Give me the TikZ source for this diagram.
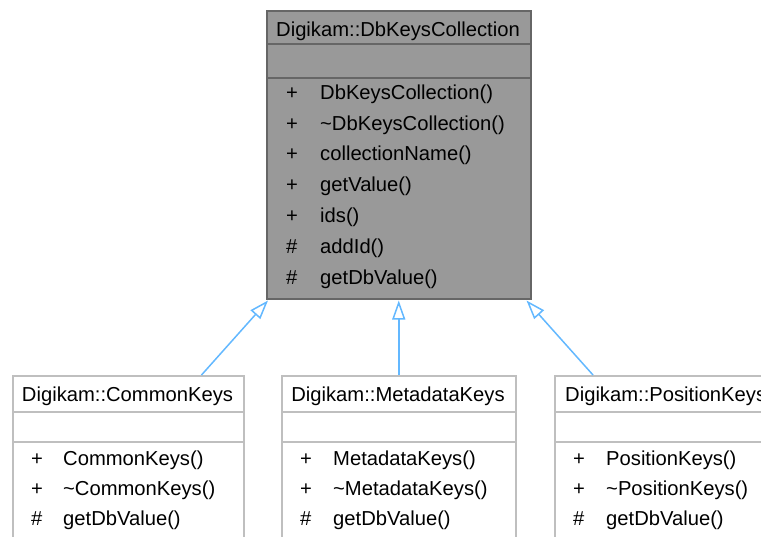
\documentclass[tikz,border=0pt]{standalone}
\usepackage{fontspec}
\setmainfont{Liberation Sans}
\usetikzlibrary{arrows.meta,calc}
\tikzset{
  parentbox/.style={draw=black!60, fill=black!40, line width=1.5pt, rectangle, inner sep=0pt, anchor=north west},
  childbox/.style={draw=black!25, fill=white, line width=1.5pt, rectangle, inner sep=0pt, anchor=north west},
  sep/.style={line width=1.5pt},
  txt/.style={anchor=base west, inner sep=0pt, font=\fontsize{20.2}{23}\selectfont, text=black},
  ttl/.style={anchor=base, inner sep=0pt, font=\fontsize{20.2}{23}\selectfont, text=black},
  inh/.style={draw={rgb,255:red,99;green,184;blue,255}, line width=1.5pt,
    {Triangle[length=19pt,width=13pt,fill=white]}-},
}
\begin{document}
\begin{tikzpicture}[x=1pt,y=-1pt]
\useasboundingbox (0,0) rectangle (761,536);
\clip (0,0) rectangle (761,536);
% parent
\node[parentbox, minimum width=264pt, minimum height=288pt] (parent) at (266,10) {};
\draw[sep, draw=black!60] (266,44) -- (530,44);
\draw[sep, draw=black!60] (266,78) -- (530,78);
\node[ttl] (pt) at (398,36) {Digikam::DbKeysCollection};
\node[txt] (p1a) at (286,99) {+}; \node[txt] (p1b) at (320,99) {DbKeysCollection()};
\node[txt] (p2a) at (286,130) {+}; \node[txt] (p2b) at (320,130) {\textasciitilde DbKeysCollection()};
\node[txt] (p3a) at (286,160) {+}; \node[txt] (p3b) at (320,160) {collectionName()};
\node[txt] (p4a) at (286,191) {+}; \node[txt] (p4b) at (320,191) {getValue()};
\node[txt] (p5a) at (286,222) {+}; \node[txt] (p5b) at (320,222) {ids()};
\node[txt] (p6a) at (286,253) {\#}; \node[txt] (p6b) at (320,253) {addId()};
\node[txt] (p7a) at (286,284) {\#}; \node[txt] (p7b) at (320,284) {getDbValue()};
% children
\node[childbox, minimum width=231pt, minimum height=180pt] (common) at (12,375) {};
\node[childbox, minimum width=234pt, minimum height=180pt] (meta) at (281,375) {};
\node[childbox, minimum width=221pt, minimum height=180pt] (pos) at (554,375) {};
\foreach \bx/\bw in {12/231, 281/234, 554/221} {
  \draw[sep, draw=black!25] (\bx,412) -- (\bx+\bw,412);
  \draw[sep, draw=black!25] (\bx,442) -- (\bx+\bw,442);
}
\node[ttl] (ct) at (127.5,401) {Digikam::CommonKeys};
\node[txt] (c1a) at (31,465) {+}; \node[txt] (c1b) at (63,465) {CommonKeys()};
\node[txt] (c2a) at (31,495) {+}; \node[txt] (c2b) at (63,495) {\textasciitilde CommonKeys()};
\node[txt] (c3a) at (31,525) {\#}; \node[txt] (c3b) at (63,525) {getDbValue()};
\node[ttl] (mt) at (398,401) {Digikam::MetadataKeys};
\node[txt] (m1a) at (300,465) {+}; \node[txt] (m1b) at (333,465) {MetadataKeys()};
\node[txt] (m2a) at (300,495) {+}; \node[txt] (m2b) at (333,495) {\textasciitilde MetadataKeys()};
\node[txt] (m3a) at (300,525) {\#}; \node[txt] (m3b) at (333,525) {getDbValue()};
\node[txt] (pst) at (565,401) {Digikam::PositionKeys};
\node[txt] (q1a) at (573,465) {+}; \node[txt] (q1b) at (606,465) {PositionKeys()};
\node[txt] (q2a) at (573,495) {+}; \node[txt] (q2b) at (606,495) {\textasciitilde PositionKeys()};
\node[txt] (q3a) at (573,525) {\#}; \node[txt] (q3b) at (606,525) {getDbValue()};
% connectors
\coordinate (cin) at ($(common.north east)+(-43,0)$);
\coordinate (pin1) at ($(parent.south west)+(2,1)$);
\coordinate (pin2) at ($(parent.south)+(0,1)$);
\coordinate (pin3) at ($(parent.south east)+(-5,1)$);
\coordinate (qin) at ($(pos.north west)+(39,0)$);
\draw[inh] (pin1) -- (cin);
\draw[inh] (pin2) -- (meta.north);
\draw[inh] (pin3) -- (qin);
\end{tikzpicture}
\end{document}
